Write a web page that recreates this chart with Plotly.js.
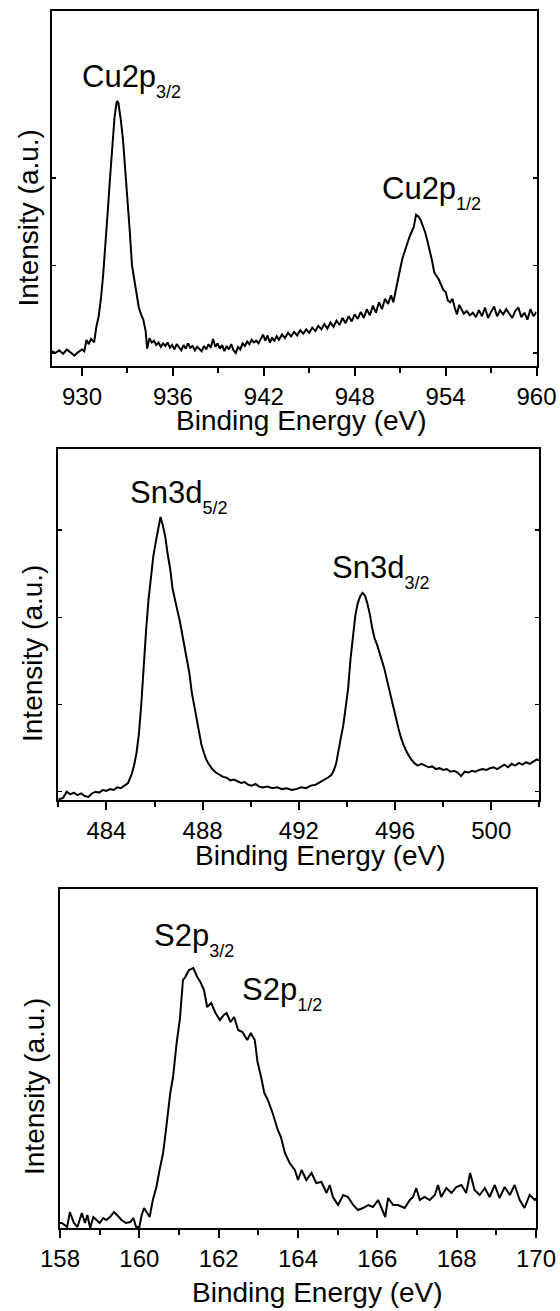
<!DOCTYPE html>
<html><head><meta charset="utf-8">
<script src="https://cdn.plot.ly/plotly-3.0.1.min.js"></script>
<style>html,body{margin:0;padding:0;background:#fff}#chart{width:560px;height:1311px}</style>
</head><body><div id="chart"></div>
<script>
// ---- Cu 2p spectrum ----
const cuEnergy = [928.0,928.25,928.5,928.75,929.0,929.25,929.5,929.75,930.0,930.15,930.3,930.45,930.6,930.8,930.95,931.1,931.25,931.4,931.55,931.7,931.85,932.0,932.15,932.3,932.4,932.55,932.7,932.85,933.0,933.15,933.3,933.45,933.6,933.75,933.9,934.05,934.2,934.3,934.45,934.6,934.75,934.9,935.05,935.2,935.35,935.5,935.65,935.8,935.95,936.1,936.25,936.4,936.55,936.7,936.85,937.0,937.15,937.3,937.45,937.6,937.75,937.9,938.05,938.2,938.35,938.5,938.65,938.8,938.95,939.1,939.25,939.4,939.55,939.7,939.85,940.0,940.15,940.3,940.45,940.6,940.75,940.9,941.05,941.2,941.35,941.5,941.65,941.8,941.95,942.1,942.25,942.4,942.55,942.7,942.85,943.0,943.2,943.4,943.6,943.8,944.0,944.2,944.4,944.6,944.8,945.0,945.2,945.4,945.6,945.8,946.0,946.2,946.4,946.6,946.8,947.0,947.2,947.4,947.6,947.8,948.0,948.2,948.4,948.6,948.8,949.0,949.2,949.4,949.6,949.8,950.0,950.2,950.4,950.55,950.7,950.85,951.0,951.15,951.3,951.45,951.6,951.75,951.9,952.05,952.2,952.35,952.5,952.65,952.8,952.95,953.1,953.25,953.4,953.55,953.7,953.85,954.0,954.15,954.3,954.45,954.6,954.75,954.9,955.05,955.2,955.4,955.6,955.8,956.0,956.2,956.4,956.6,956.8,957.0,957.2,957.4,957.6,957.8,958.0,958.2,958.4,958.6,958.8,959.0,959.2,959.4,959.6,959.8,960.0];
const cuIntensity = [0.02,0.00,0.03,-0.01,0.04,0.00,-0.03,0.01,0.04,0.02,0.15,0.10,0.16,0.12,0.30,0.42,0.62,0.90,1.22,1.62,2.00,2.38,2.70,2.88,2.86,2.68,2.45,2.10,1.78,1.40,1.00,0.82,0.70,0.52,0.44,0.38,0.25,0.05,0.17,0.12,0.14,0.09,0.12,0.07,0.11,0.08,0.12,0.06,0.09,0.04,0.10,0.06,0.03,0.09,0.05,0.11,0.06,0.08,0.03,0.07,0.05,0.02,0.08,0.04,0.10,0.06,0.16,0.07,0.11,0.05,0.09,0.02,0.08,0.04,0.10,0.03,0.00,0.07,0.04,0.11,0.08,0.13,0.10,0.15,0.12,0.14,0.11,0.17,0.21,0.14,0.20,0.12,0.17,0.14,0.19,0.15,0.21,0.17,0.23,0.19,0.24,0.20,0.26,0.22,0.27,0.23,0.29,0.25,0.31,0.27,0.33,0.28,0.35,0.30,0.37,0.32,0.40,0.34,0.42,0.36,0.44,0.39,0.47,0.40,0.50,0.43,0.54,0.46,0.58,0.50,0.62,0.56,0.66,0.58,0.72,0.86,0.96,1.08,1.16,1.26,1.32,1.38,1.44,1.58,1.56,1.52,1.46,1.38,1.28,1.18,1.06,0.92,0.88,0.84,0.78,0.72,0.70,0.60,0.58,0.62,0.52,0.44,0.55,0.50,0.45,0.48,0.43,0.46,0.41,0.49,0.42,0.52,0.40,0.47,0.53,0.42,0.49,0.44,0.50,0.45,0.40,0.48,0.52,0.41,0.46,0.38,0.50,0.42,0.47];

// ---- Sn 3d spectrum ----
const snEnergy = [482.0,482.2,482.35,482.5,482.65,482.8,482.95,483.1,483.25,483.4,483.55,483.7,483.85,484.0,484.15,484.3,484.45,484.6,484.75,484.9,485.05,485.15,485.25,485.35,485.45,485.55,485.65,485.75,485.85,485.95,486.05,486.15,486.25,486.35,486.45,486.55,486.65,486.75,486.85,486.95,487.05,487.15,487.25,487.35,487.45,487.55,487.65,487.75,487.85,487.95,488.05,488.15,488.25,488.4,488.55,488.7,488.85,489.0,489.15,489.3,489.45,489.6,489.75,489.9,490.05,490.2,490.35,490.5,490.7,490.9,491.1,491.3,491.5,491.7,491.9,492.1,492.3,492.5,492.7,492.9,493.05,493.2,493.35,493.45,493.55,493.65,493.75,493.85,493.95,494.05,494.15,494.25,494.35,494.45,494.55,494.65,494.75,494.85,494.95,495.05,495.15,495.25,495.35,495.45,495.55,495.65,495.75,495.85,495.95,496.05,496.15,496.25,496.35,496.5,496.65,496.8,496.95,497.1,497.25,497.4,497.55,497.7,497.85,498.0,498.15,498.3,498.45,498.6,498.75,498.9,499.05,499.2,499.35,499.5,499.65,499.8,499.95,500.1,500.25,500.4,500.55,500.7,500.85,501.0,501.15,501.3,501.45,501.6,501.75,501.9,502.0];
const snIntensity = [-0.09,-0.07,0.00,-0.03,-0.01,-0.04,-0.02,-0.05,-0.06,-0.02,0.00,-0.01,0.02,0.01,0.03,0.02,0.05,0.04,0.07,0.10,0.20,0.30,0.44,0.66,1.00,1.45,1.85,2.20,2.46,2.70,2.86,3.02,3.15,3.05,2.92,2.72,2.56,2.33,2.22,2.08,1.96,1.80,1.66,1.52,1.36,1.14,0.98,0.82,0.66,0.54,0.45,0.37,0.32,0.26,0.22,0.19,0.17,0.16,0.13,0.14,0.12,0.10,0.11,0.08,0.07,0.09,0.06,0.05,0.06,0.04,0.05,0.03,0.04,0.02,0.03,0.05,0.04,0.07,0.08,0.11,0.13,0.16,0.19,0.24,0.32,0.45,0.62,0.76,0.96,1.18,1.52,1.80,2.02,2.16,2.24,2.28,2.25,2.16,2.04,1.88,1.76,1.69,1.60,1.52,1.42,1.30,1.18,1.06,0.94,0.84,0.72,0.62,0.54,0.45,0.38,0.33,0.30,0.32,0.30,0.28,0.29,0.26,0.27,0.25,0.26,0.23,0.24,0.22,0.18,0.23,0.22,0.24,0.23,0.25,0.26,0.25,0.27,0.28,0.26,0.29,0.31,0.28,0.32,0.30,0.33,0.31,0.34,0.32,0.35,0.37,0.36];

// ---- S 2p spectrum ----
const sEnergy = [158.0,158.05,158.18,158.25,158.35,158.44,158.55,158.63,158.69,158.76,158.84,158.92,159.0,159.09,159.17,159.26,159.36,159.44,159.55,159.66,159.77,159.85,159.92,160.0,160.06,160.12,160.19,160.26,160.34,160.43,160.51,160.6,160.68,160.78,160.85,160.94,161.02,161.1,161.16,161.25,161.36,161.46,161.54,161.63,161.71,161.81,161.92,162.03,162.13,162.2,162.3,162.39,162.49,162.6,162.72,162.81,162.91,162.98,163.07,163.15,163.24,163.36,163.49,163.57,163.67,163.79,163.92,164.0,164.09,164.21,164.34,164.46,164.59,164.72,164.8,164.88,165.01,165.14,165.26,165.39,165.51,165.64,165.77,165.89,166.02,166.1,166.2,166.27,166.4,166.52,166.69,166.82,166.9,166.98,167.07,167.19,167.32,167.45,167.53,167.61,167.74,167.87,167.99,168.12,168.24,168.34,168.45,168.58,168.71,168.83,168.96,169.08,169.21,169.34,169.46,169.59,169.71,169.84,169.97,170.0];
const sIntensity = [0.05,0.05,0.01,0.16,0.05,0.01,0.15,0.05,0.13,0.00,0.11,0.08,0.05,0.10,0.08,0.11,0.16,0.13,0.08,0.05,0.06,0.10,0.01,0.01,0.13,0.20,0.15,0.11,0.28,0.41,0.58,0.75,1.01,1.35,1.51,1.85,2.08,2.48,2.51,2.58,2.60,2.51,2.46,2.38,2.21,2.25,2.15,2.08,2.13,2.15,2.06,2.11,1.98,1.96,1.88,1.95,1.88,1.66,1.51,1.35,1.28,1.15,0.98,0.91,0.75,0.65,0.58,0.48,0.58,0.48,0.55,0.45,0.46,0.35,0.43,0.31,0.23,0.33,0.31,0.23,0.18,0.20,0.23,0.21,0.28,0.20,0.11,0.30,0.23,0.23,0.20,0.28,0.31,0.40,0.28,0.31,0.28,0.33,0.43,0.31,0.40,0.35,0.41,0.43,0.35,0.55,0.38,0.33,0.40,0.31,0.43,0.30,0.41,0.33,0.43,0.28,0.20,0.33,0.28,0.30];

// ---- labels ----
const xTitle = 'Binding Energy (eV)';
const yTitle = 'Intensity (a.u.)';
const peakLabels = [
  {text:'Cu2p', sub:'3/2', x:929.87, y:3.12, panel:''},
  {text:'Cu2p', sub:'1/2', x:949.7, y:1.83, panel:''},
  {text:'Sn3d', sub:'5/2', x:484.88, y:3.39, panel:'2'},
  {text:'Sn3d', sub:'3/2', x:493.3, y:2.53, panel:'2'},
  {text:'S2p', sub:'3/2', x:160.31, y:2.89, panel:'3'},
  {text:'S2p', sub:'1/2', x:162.53, y:2.35, panel:'3'}
];

const FONT = 'Liberation Sans, Arial, Helvetica, sans-serif';
const W = 560, H = 1311;

function trace(x, y, n) {
  return {x:x, y:y, xaxis:'x'+n, yaxis:'y'+n, type:'scatter', mode:'lines',
          line:{color:'#000', width:2}, hoverinfo:'skip', showlegend:false};
}
function xax(dom, range, tick0, dtick, mdtick, anchor) {
  return {domain:dom, range:range, anchor:anchor, tick0:tick0, dtick:dtick,
          ticks:'outside', ticklen:8, tickwidth:2, tickcolor:'#000',
          minor:{tick0:tick0, dtick:mdtick, ticks:'outside', ticklen:5, tickwidth:2, tickcolor:'#000'},
          showline:true, linewidth:2, linecolor:'#000', mirror:true,
          showgrid:false, zeroline:false, tickfont:{family:FONT, size:24, color:'#000'}};
}
function yax(dom, range, tickvals, anchor) {
  return {domain:dom, range:range, anchor:anchor, tickvals:tickvals, showticklabels:false,
          ticks: tickvals.length ? 'inside' : '', ticklen:4, tickwidth:1.5, tickcolor:'#000',
          showline:true, linewidth:2, linecolor:'#000', mirror: tickvals.length ? 'ticks' : true,
          showgrid:false, zeroline:false};
}
const px = v => v / W, py = v => 1 - v / H;

const layout = {
  width:W, height:H, margin:{l:0, r:0, t:0, b:0},
  paper_bgcolor:'#fff', plot_bgcolor:'#fff',
  font:{family:FONT, color:'#000'},
  xaxis:  xax([px(51.7), px(536.5)], [928, 960], 930, 6, 3, 'y'),
  yaxis:  yax([py(366), py(11)], [-0.149, 3.909], [0, 1, 2], 'x'),
  xaxis2: xax([px(58.3), px(539.3)], [482, 502], 484, 4, 2, 'y2'),
  yaxis2: yax([py(800), py(449.3)], [-0.095, 3.927], [0, 1, 2, 3], 'x2'),
  xaxis3: xax([px(60), px(536)], [158, 170], 158, 2, 1, 'y3'),
  yaxis3: yax([py(1228), py(889.3)], [0, 3.387], [], 'x3'),
  annotations: []
};

// axis titles
[[301.5, 420], [320, 855], [317.5, 1292]].forEach(p => layout.annotations.push({
  text:xTitle, xref:'paper', yref:'paper', x:px(p[0]), y:py(p[1]), xanchor:'center', yanchor:'middle',
  showarrow:false, font:{family:FONT, size:28, color:'#000'}}));
[[27.5, 218], [33, 654], [34, 1087]].forEach(p => layout.annotations.push({
  text:yTitle, xref:'paper', yref:'paper', x:px(p[0]), y:py(p[1]), xanchor:'center', yanchor:'middle',
  textangle:-90, showarrow:false, font:{family:FONT, size:28, color:'#000'}}));
// peak labels
peakLabels.forEach(l => layout.annotations.push({
  text: l.text + '<sub><sub><span style="font-size:18px">' + l.sub + '</span></sub></sub>',
  xref:'x'+l.panel, yref:'y'+l.panel, x:l.x, y:l.y, xanchor:'left', yanchor:'middle',
  showarrow:false, font:{family:FONT, size:31, color:'#000'}}));

const data = [trace(cuEnergy, cuIntensity, ''), trace(snEnergy, snIntensity, '2'), trace(sEnergy, sIntensity, '3')];
Plotly.newPlot('chart', data, layout, {staticPlot:true, displayModeBar:false});
</script></body></html>
